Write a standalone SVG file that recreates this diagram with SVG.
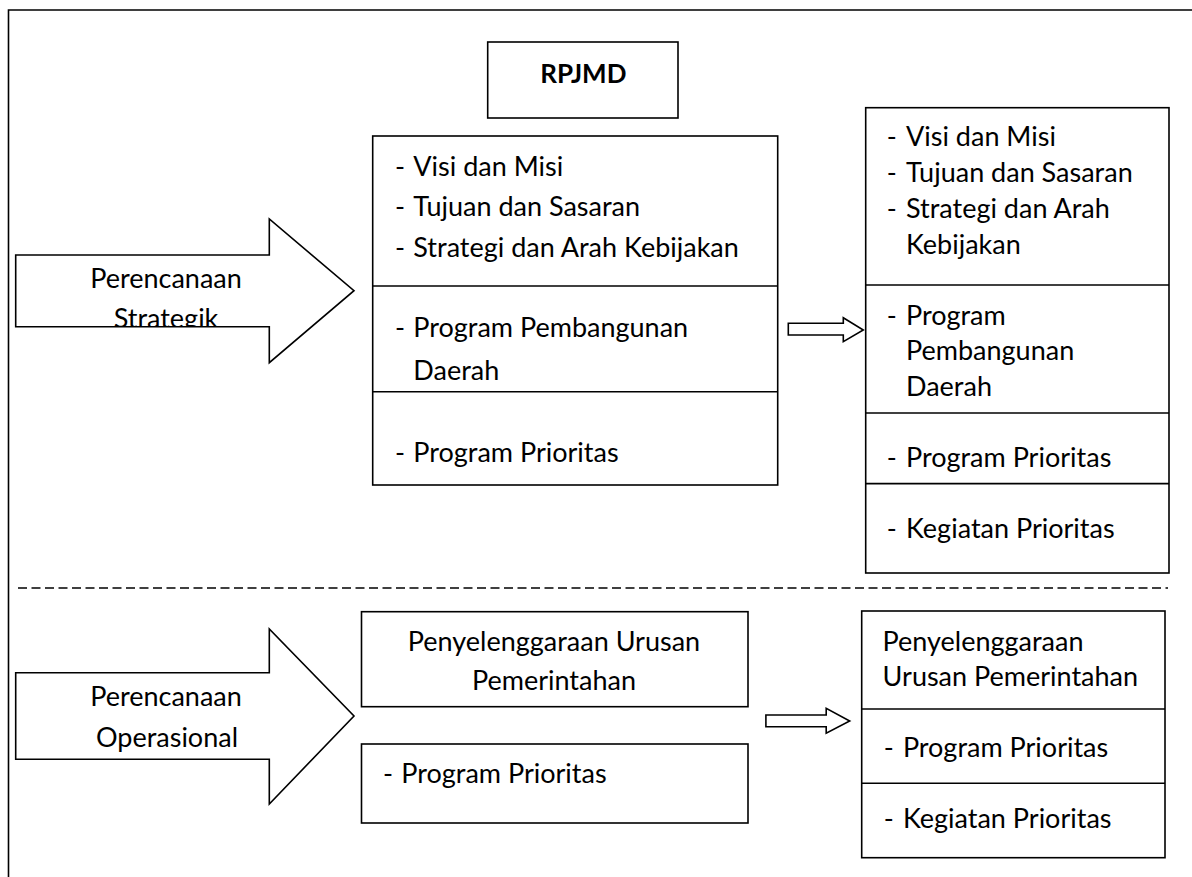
<svg xmlns="http://www.w3.org/2000/svg" width="1192" height="877" viewBox="0 0 1192 877">
<style>
.box{fill:#fff;stroke:#000;stroke-width:1.6}
.ln{fill:none;stroke:#000;stroke-width:1.6}
.t{font-family:Lato,"Open Sans","Liberation Sans",sans-serif;font-size:27px;fill:#000}
.c{text-anchor:middle}
.b{font-weight:bold;font-size:26px}
.bigarrow{fill:#fff;stroke:#000;stroke-width:1.6;stroke-linejoin:miter}
.small{fill:#fff;stroke:#000;stroke-width:1.6;stroke-linejoin:miter}
</style>
<defs>
<clipPath id="clipS"><rect x="16" y="255" width="254" height="71"/></clipPath>
</defs>
<rect width="1192" height="877" fill="#fff"/>
<g id="frame">
<path class="ln" d="M8.5 877 V10 H1192" stroke-width="2"/>
</g>
<g id="separator">
<line x1="18" y1="588" x2="1168" y2="588" stroke="#000" stroke-width="1.4" stroke-dasharray="9 4.5"/>
</g>
<g id="arrow-strategik">
<polygon class="bigarrow" points="15.7,255 269.3,255 269.3,219 354,290.7 269.3,362.7 269.3,326.7 15.7,326.7"/>
<g clip-path="url(#clipS)">
<text class="t c" x="166" y="288.3">Perencanaan</text>
<text class="t c" x="166" y="328">Strategik</text>
</g>
</g>
<g id="arrow-operasional">
<polygon class="bigarrow" points="15.7,672.7 269.3,672.7 269.3,629 354,716 269.3,804 269.3,759.3 15.7,759.3"/>
<text class="t c" x="166" y="706">Perencanaan</text>
<text class="t c" x="167" y="746.7">Operasional</text>
</g>
<g id="rpjmd">
<rect class="box" x="487.7" y="42" width="190.3" height="76"/>
<text class="t c b" x="583.3" y="83.3">RPJMD</text>
</g>
<g id="strategik-rpjmd">
<rect class="box" x="372.7" y="136" width="405" height="349"/>
<line class="ln" x1="372.7" y1="286" x2="777.7" y2="286"/>
<line class="ln" x1="372.7" y1="391.7" x2="777.7" y2="391.7"/>
<text class="t" y="176"><tspan x="395">- </tspan><tspan x="413.3">Visi dan Misi</tspan></text>
<text class="t" y="216"><tspan x="395">- </tspan><tspan x="413.3">Tujuan dan Sasaran</tspan></text>
<text class="t" y="256.7"><tspan x="395">- </tspan><tspan x="413.3">Strategi dan Arah Kebijakan</tspan></text>
<text class="t" y="337"><tspan x="395">- </tspan><tspan x="413.3">Program Pembangunan</tspan></text>
<text class="t" x="413.3" y="380">Daerah</text>
<text class="t" y="461.7"><tspan x="395">- </tspan><tspan x="413.3">Program Prioritas</tspan></text>
</g>
<g id="strategik-right">
<rect class="box" x="865.7" y="107.7" width="303.3" height="465.3"/>
<line class="ln" x1="865.7" y1="285" x2="1169" y2="285"/>
<line class="ln" x1="865.7" y1="413" x2="1169" y2="413"/>
<line class="ln" x1="865.7" y1="483.6" x2="1169" y2="483.6"/>
<text class="t" y="145.9"><tspan x="886.7">- </tspan><tspan x="906">Visi dan Misi</tspan></text>
<text class="t" y="181.8"><tspan x="886.7">- </tspan><tspan x="906">Tujuan dan Sasaran</tspan></text>
<text class="t" y="217.8"><tspan x="886.7">- </tspan><tspan x="906">Strategi dan Arah</tspan></text>
<text class="t" x="906" y="253.8">Kebijakan</text>
<text class="t" y="325"><tspan x="886.7">- </tspan><tspan x="906">Program</tspan></text>
<text class="t" x="906" y="360">Pembangunan</text>
<text class="t" x="906" y="395.9">Daerah</text>
<text class="t" y="467"><tspan x="886.7">- </tspan><tspan x="906">Program Prioritas</tspan></text>
<text class="t" y="538"><tspan x="886.7">- </tspan><tspan x="906">Kegiatan Prioritas</tspan></text>
</g>
<g id="operasional-urusan">
<rect class="box" x="361.5" y="611.7" width="386.5" height="95"/>
<text class="t c" x="554" y="650.7">Penyelenggaraan Urusan</text>
<text class="t c" x="554" y="690">Pemerintahan</text>
</g>
<g id="operasional-program">
<rect class="box" x="361.5" y="744" width="386.5" height="79"/>
<text class="t" y="782.7"><tspan x="383">- </tspan><tspan x="401.3">Program Prioritas</tspan></text>
</g>
<g id="operasional-right">
<rect class="box" x="861.7" y="611" width="303.3" height="246.7"/>
<line class="ln" x1="861.7" y1="709" x2="1165" y2="709"/>
<line class="ln" x1="861.7" y1="783.3" x2="1165" y2="783.3"/>
<text class="t" x="882.6" y="650.7">Penyelenggaraan</text>
<text class="t" x="882.6" y="686">Urusan Pemerintahan</text>
<text class="t" y="756.7"><tspan x="883.7">- </tspan><tspan x="902.9">Program Prioritas</tspan></text>
<text class="t" y="828.3"><tspan x="883.7">- </tspan><tspan x="902.9">Kegiatan Prioritas</tspan></text>
</g>
<g id="connectors">
<polygon class="small" points="788.3,323.3 843.3,323.3 843.3,317.7 863.3,330 843.3,341.7 843.3,335 788.3,335"/>
<polygon class="small" points="765.9,715 826.2,715 826.2,708.3 849.7,721 826.2,733.3 826.2,726.7 765.9,726.7"/>
</g>
</svg>
